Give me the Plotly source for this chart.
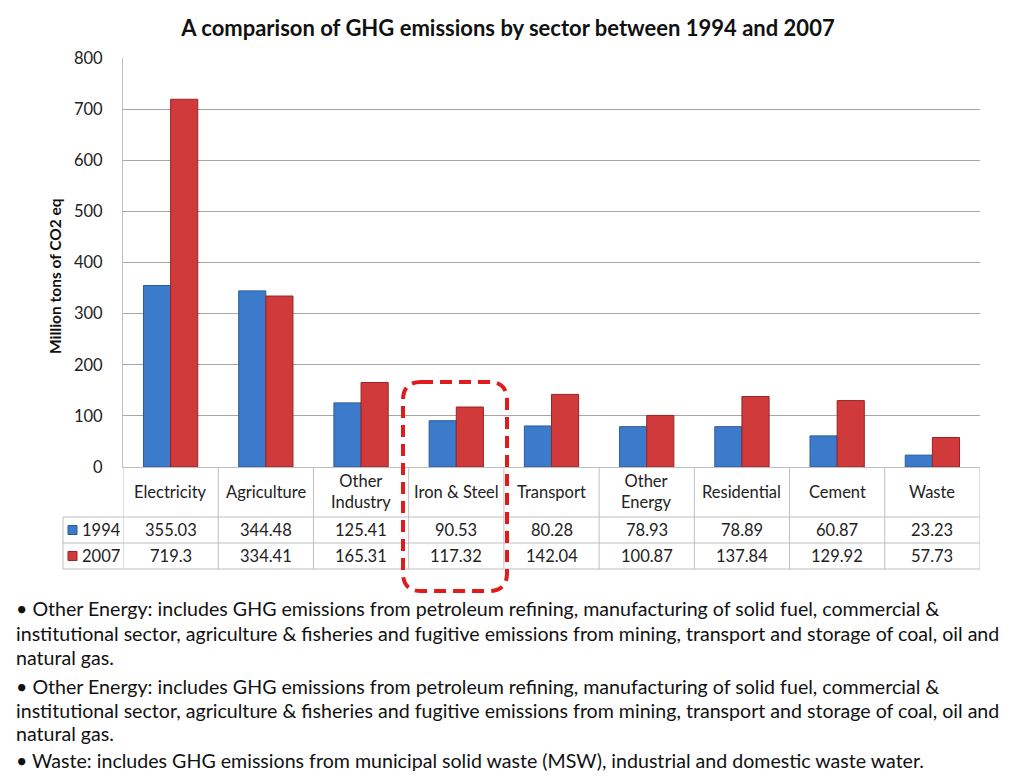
import plotly.graph_objects as go

sectors = ["Electricity", "Agriculture", "Other<br>Industry", "Iron & Steel", "Transport",
           "Other<br>Energy", "Residential", "Cement", "Waste"]
years = ["1994", "2007"]
em_1994 = [355.03, 344.48, 125.41, 90.53, 80.28, 78.93, 78.89, 60.87, 23.23]
em_2007 = [719.3, 334.41, 165.31, 117.32, 142.04, 100.87, 137.84, 129.92, 57.73]
y_ticks = [0, 100, 200, 300, 400, 500, 600, 700, 800]

notes = [
    "• Other Energy: includes GHG emissions from petroleum refining, manufacturing of solid fuel, commercial &",
    "institutional sector, agriculture & fisheries and fugitive emissions from mining, transport and storage of coal, oil and",
    "natural gas.",
    "• Other Energy: includes GHG emissions from petroleum refining, manufacturing of solid fuel, commercial &",
    "institutional sector, agriculture & fisheries and fugitive emissions from mining, transport and storage of coal, oil and",
    "natural gas.",
    "• Waste: includes GHG emissions from municipal solid waste (MSW), industrial and domestic waste water.",
]

FONT = "Lato"
OFF = 8  # page margin of the html body
W, H = 1024 - 2 * OFF, 781 - 2 * OFF
L, R, T, B = 123, 980, 58, 467  # plot area in screen pixels
blue, blue_edge = "#3C7BCC", "#2A5A98"
red, red_edge = "#D03A3A", "#982424"
grid = "#A6A6A6"
border = "#BFBFBF"


def px(x):
    return (x - L) / (R - L)


def py(y):
    return (B - y) / (B - T)


x_idx = list(range(len(sectors)))

fig = go.Figure()
fig.add_bar(x=x_idx, y=em_1994, name=years[0], marker=dict(color=blue, line=dict(color=blue_edge, width=1)))
fig.add_bar(x=x_idx, y=em_2007, name=years[1], marker=dict(color=red, line=dict(color=red_edge, width=1)))

shapes = []
annotations = []

# table grid
for k in range(len(sectors) + 1):
    shapes.append(dict(type="line", xref="x", yref="paper", x0=k - 0.5, x1=k - 0.5,
                       y0=py(467), y1=py(569), line=dict(color=border, width=1)))
for yy in (517, 543, 569):
    shapes.append(dict(type="line", xref="paper", yref="paper", x0=px(63), x1=px(980),
                       y0=py(yy), y1=py(yy), line=dict(color=border, width=1)))
shapes.append(dict(type="line", xref="paper", yref="paper", x0=px(63), x1=px(63),
                   y0=py(517), y1=py(569), line=dict(color=border, width=1)))

# table texts
tfont = dict(size=16.5, color="#222")
for i, s in enumerate(sectors):
    annotations.append(dict(x=i, y=py(492), xref="x", yref="paper", text=s, showarrow=False,
                            font=tfont, yanchor="middle"))
    annotations.append(dict(x=i, y=py(530), xref="x", yref="paper", text=f"{em_1994[i]:g}",
                            showarrow=False, font=tfont, yanchor="middle"))
    annotations.append(dict(x=i, y=py(556), xref="x", yref="paper", text=f"{em_2007[i]:g}",
                            showarrow=False, font=tfont, yanchor="middle"))

for yr, yy, c, e in ((years[0], 530, blue, blue_edge), (years[1], 556, red, red_edge)):
    shapes.append(dict(type="rect", xref="paper", yref="paper", x0=px(68), x1=px(77),
                       y0=py(yy - 4.5), y1=py(yy + 4.5), fillcolor=c, line=dict(color=e, width=1)))
    annotations.append(dict(x=px(80), y=py(yy), xref="paper", yref="paper", text=yr, showarrow=False,
                            xanchor="left", yanchor="middle", font=tfont))

# dashed highlight box
x0, x1, y0, y1, r = px(403), px(507), py(382), py(591), 18
rx, ry = r / (R - L), r / (B - T)
path = (f"M {x0 + rx},{y0} L {x1 - rx},{y0} Q {x1},{y0} {x1},{y0 - ry} "
        f"L {x1},{y1 + ry} Q {x1},{y1} {x1 - rx},{y1} L {x0 + rx},{y1} "
        f"Q {x0},{y1} {x0},{y1 + ry} L {x0},{y0 - ry} Q {x0},{y0} {x0 + rx},{y0} Z")
shapes.append(dict(type="path", xref="paper", yref="paper", path=path,
                   line=dict(color="#E01B1B", width=4, dash="12px,7px")))

# notes
note_y = [608, 633, 657, 686, 710, 734, 760]
for line, yy in zip(notes, note_y):
    annotations.append(dict(x=px(14), y=py(yy), xref="paper", yref="paper", text=line, showarrow=False,
                            xanchor="left", yanchor="middle", font=dict(size=19.6, color="#111")))

# y axis title
annotations.append(dict(x=px(55), y=py(276), xref="paper", yref="paper", text="<b>Million tons of CO2 eq</b>",
                        showarrow=False, textangle=-90, xanchor="center", yanchor="middle",
                        font=dict(size=15.5, color="#111")))

fig.update_layout(
    width=W, height=H,
    margin=dict(l=L - OFF, r=W - (R - OFF), t=T - OFF, b=H - (B - OFF), pad=0),
    paper_bgcolor="white", plot_bgcolor="white",
    font=dict(family=FONT, color="#222"),
    title=dict(text="<b>A comparison of GHG emissions by sector between 1994 and 2007</b>",
               x=(508 - OFF) / W, xanchor="center", y=1 - (28 - OFF) / H, yanchor="middle",
               font=dict(size=22, color="#111")),
    barmode="group", bargap=0.43, bargroupgap=0,
    showlegend=False,
    xaxis=dict(range=[-0.5, len(sectors) - 0.5], showticklabels=False, showgrid=False,
               showline=True, linecolor=border, ticks="", zeroline=False),
    yaxis=dict(range=[0, 800], tickvals=y_ticks, showgrid=True, gridcolor=grid, gridwidth=1,
               showline=True, linecolor=border, ticks="", zeroline=False,
               tickfont=dict(size=16.5, color="#222"), ticklabelstandoff=16),
    shapes=shapes, annotations=annotations,
)

fig.write_html("out.html")
